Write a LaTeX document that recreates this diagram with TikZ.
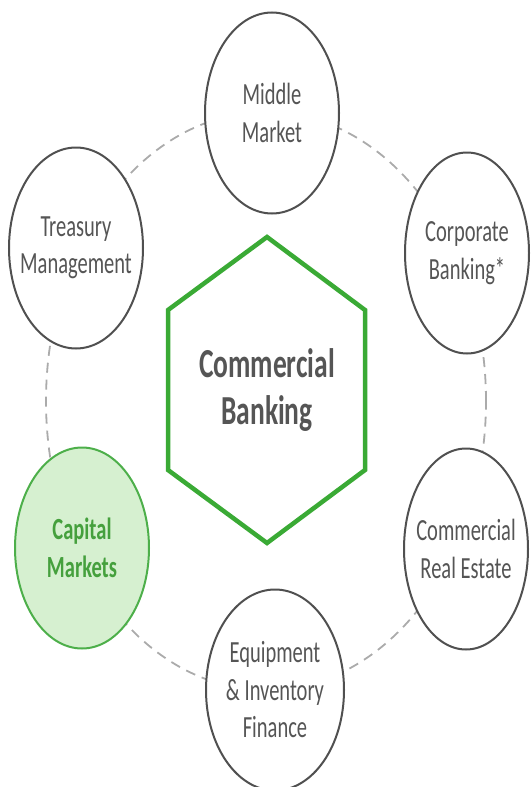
\documentclass[tikz,border=0pt]{standalone}
\usepackage{fontspec}
\setmainfont{Carlito}
\usetikzlibrary{shapes.geometric}

\definecolor{ringgray}{HTML}{ABABAB}
\definecolor{unitgray}{HTML}{505050}
\definecolor{textgray}{HTML}{555555}
\definecolor{cbgreen}{HTML}{3AAA35}
\definecolor{cmfill}{HTML}{D6F0D0}
\definecolor{cmline}{HTML}{4DAF4A}
\definecolor{cmtext}{HTML}{45A03D}

\tikzset{
	unit/.style={ellipse, draw=unitgray, line width=2pt, fill=white, minimum width=134pt, minimum height=134pt, inner sep=0pt, yscale=1.5},
	unittext/.style={align=center, text=textgray, font=\fontsize{20.5}{25}\selectfont, yscale=1.5},
	ring/.style={draw=ringgray, line width=1.8pt, dash pattern=on 10pt off 7pt}
}

\begin{document}
\begin{tikzpicture}[x=1pt, y=-1pt]
		\useasboundingbox (0,0) rectangle (532,787);

		% dashed ring behind the units
		\draw[ring] (266,401) ellipse [x radius=220pt, y radius=289pt];

		% centre hexagon
		\draw[cbgreen, line width=4.5pt, line join=miter] (267,237) -- (365,310) -- (365,470) -- (267,543) -- (168,470) -- (168,310) -- cycle;
		\node[align=center, text=textgray, font=\bfseries\fontsize{27.5}{31}\selectfont, yscale=1.5] (cb) at (267,390) {Commercial\\Banking};

		% units
		\node[unit] (mm) at (272,113) {};
		\node[unittext] at (mm) {Middle\\Market};

		\node[unit, minimum width=124pt] (corp) at (467,253) {};
		\node[unittext] at (corp) {Corporate\\Banking*};

		\node[unit, minimum width=124pt] (cre) at (466,549) {};
		\node[unittext] at (cre) {Commercial\\Real Estate};

		\node[unit, minimum width=138pt] (eif) at (275,690) {};
		\node[unittext] at (eif) {Equipment\\\& Inventory\\Finance};

		\node[unit, draw=cmline, fill=cmfill] (cm) at (82,548) {};
		\node[unittext, text=cmtext, font=\bfseries\fontsize{20.5}{25}\selectfont] at (cm) {Capital\\Markets};

		\node[unit] (tm) at (76,248) {};
		\node[unittext] at (tm) {Treasury\\Management};
	\end{tikzpicture}
\end{document}
